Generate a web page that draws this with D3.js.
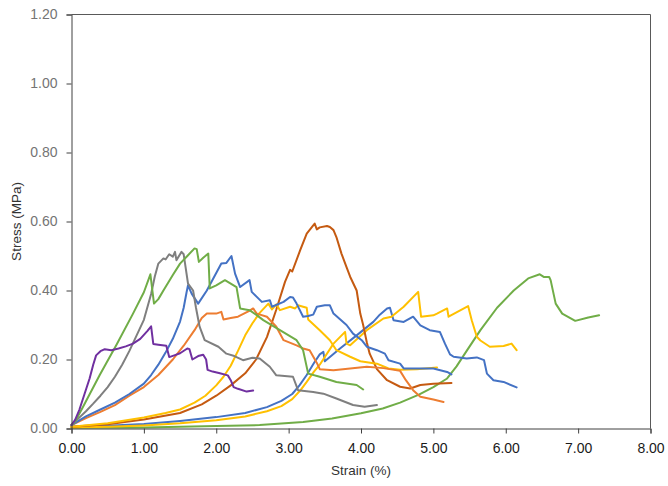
<!DOCTYPE html>
<html>
<head>
<meta charset="utf-8">
<script src="https://cdn.jsdelivr.net/npm/d3@7"></script>
<style>
  body { margin: 0; background: #fff; }
  svg { display: block; font-family: "Liberation Sans", Arial, sans-serif; }
</style>
</head>
<body>
<div id="chart"></div>
<script>
// Stress-strain curves, one array of [strain %, stress MPa] per specimen
var purple = [[0,0.01],[0.05,0.025],[0.11,0.055],[0.18,0.10],[0.25,0.145],[0.30,0.185],[0.34,0.212],[0.40,0.224],[0.46,0.23],[0.55,0.227],[0.65,0.232],[0.75,0.238],[0.85,0.246],[0.95,0.26],[1.05,0.283],[1.10,0.296],[1.13,0.245],[1.20,0.243],[1.31,0.240],[1.35,0.207],[1.42,0.212],[1.50,0.218],[1.60,0.232],[1.63,0.230],[1.67,0.200],[1.75,0.210],[1.82,0.214],[1.86,0.20],[1.88,0.17],[1.95,0.165],[2.05,0.160],[2.16,0.154],[2.20,0.14],[2.24,0.12],[2.30,0.115],[2.42,0.107],[2.51,0.110]];

var greenA = [[0,0.01],[0.05,0.02],[0.16,0.063],[0.39,0.155],[0.62,0.242],[0.85,0.333],[1.00,0.395],[1.09,0.447],[1.14,0.362],[1.20,0.375],[1.27,0.40],[1.40,0.445],[1.50,0.478],[1.60,0.50],[1.70,0.522],[1.73,0.520],[1.76,0.483],[1.82,0.495],[1.89,0.507],[1.91,0.406],[2.00,0.415],[2.12,0.43],[2.20,0.42],[2.28,0.41],[2.33,0.348],[2.46,0.343],[2.55,0.33],[2.65,0.314],[2.88,0.285],[3.11,0.256],[3.20,0.227],[3.27,0.159],[3.43,0.150],[3.66,0.135],[3.94,0.126],[4.03,0.113]];

var gray = [[0,0.01],[0.1,0.03],[0.2,0.05],[0.3,0.072],[0.4,0.095],[0.5,0.12],[0.6,0.15],[0.7,0.185],[0.8,0.225],[0.9,0.27],[1.0,0.315],[1.1,0.39],[1.15,0.44],[1.20,0.478],[1.27,0.493],[1.30,0.49],[1.35,0.505],[1.40,0.498],[1.43,0.512],[1.45,0.488],[1.52,0.512],[1.55,0.505],[1.61,0.42],[1.68,0.40],[1.72,0.35],[1.77,0.295],[1.84,0.256],[2.03,0.237],[2.14,0.217],[2.25,0.21],[2.37,0.198],[2.50,0.205],[2.60,0.203],[2.74,0.179],[2.83,0.154],[3.06,0.15],[3.13,0.111],[3.34,0.106],[3.48,0.101],[3.66,0.087],[3.89,0.068],[4.05,0.063],[4.22,0.068]];

var blueA = [[0,0.01],[0.2,0.035],[0.4,0.055],[0.6,0.075],[0.8,0.10],[1.0,0.13],[1.1,0.155],[1.2,0.185],[1.3,0.22],[1.4,0.26],[1.5,0.31],[1.55,0.35],[1.59,0.395],[1.61,0.415],[1.66,0.391],[1.75,0.362],[1.87,0.40],[2.07,0.478],[2.14,0.48],[2.21,0.50],[2.26,0.449],[2.33,0.41],[2.46,0.43],[2.49,0.396],[2.63,0.367],[2.74,0.372],[2.77,0.353],[2.93,0.367],[3.02,0.381],[3.06,0.38],[3.11,0.362],[3.20,0.324],[3.27,0.326],[3.34,0.33],[3.39,0.353],[3.50,0.357],[3.57,0.357],[3.62,0.333],[3.80,0.30],[3.89,0.275],[4.01,0.256],[4.08,0.237],[4.22,0.227],[4.33,0.217],[4.38,0.198],[4.54,0.188],[4.59,0.174],[4.77,0.174],[5.00,0.174],[5.19,0.164],[5.25,0.157]];

var orangeA = [[0,0.01],[0.2,0.03],[0.4,0.048],[0.6,0.068],[0.8,0.095],[1.0,0.12],[1.2,0.155],[1.4,0.20],[1.55,0.24],[1.7,0.285],[1.8,0.32],[1.87,0.333],[2.00,0.333],[2.07,0.338],[2.10,0.316],[2.20,0.32],[2.30,0.324],[2.45,0.34],[2.51,0.348],[2.56,0.333],[2.70,0.324],[2.83,0.295],[2.93,0.256],[3.11,0.241],[3.20,0.232],[3.29,0.227],[3.39,0.19],[3.43,0.172],[3.62,0.169],[3.85,0.174],[4.08,0.179],[4.31,0.175],[4.54,0.167],[4.62,0.14],[4.72,0.111],[4.82,0.092],[5.00,0.084],[5.14,0.077]];

var darkOrange = [[0,0.005],[0.5,0.012],[1.0,0.026],[1.5,0.045],[1.8,0.07],[2.0,0.095],[2.2,0.125],[2.4,0.16],[2.55,0.20],[2.7,0.265],[2.83,0.345],[2.95,0.425],[3.02,0.46],[3.05,0.455],[3.16,0.517],[3.25,0.565],[3.34,0.589],[3.36,0.594],[3.39,0.577],[3.43,0.583],[3.53,0.587],[3.57,0.584],[3.62,0.575],[3.66,0.555],[3.73,0.507],[3.80,0.468],[3.85,0.44],[3.94,0.40],[3.99,0.333],[4.03,0.30],[4.08,0.25],[4.12,0.217],[4.22,0.172],[4.36,0.14],[4.54,0.121],[4.68,0.116],[4.82,0.126],[5.00,0.13],[5.25,0.132]];

var yellowA = [[0,0.005],[0.5,0.015],[1.0,0.032],[1.3,0.045],[1.5,0.055],[1.7,0.075],[1.85,0.095],[2.0,0.125],[2.1,0.15],[2.2,0.182],[2.3,0.225],[2.4,0.27],[2.5,0.305],[2.6,0.335],[2.72,0.362],[2.77,0.345],[2.83,0.36],[2.88,0.343],[3.02,0.353],[3.09,0.348],[3.13,0.357],[3.20,0.353],[3.25,0.35],[3.27,0.316],[3.43,0.285],[3.57,0.256],[3.66,0.227],[3.85,0.208],[3.99,0.195],[4.22,0.188],[4.38,0.174],[4.54,0.170],[4.77,0.172],[5.05,0.177]];

var blueB = [[0,0.005],[0.5,0.008],[1.0,0.013],[1.5,0.022],[2.0,0.033],[2.4,0.045],[2.7,0.062],[2.9,0.08],[3.05,0.10],[3.15,0.125],[3.25,0.155],[3.35,0.19],[3.43,0.215],[3.48,0.222],[3.50,0.195],[3.71,0.232],[3.94,0.27],[4.17,0.309],[4.26,0.33],[4.36,0.348],[4.40,0.35],[4.45,0.314],[4.59,0.309],[4.72,0.324],[4.82,0.299],[4.95,0.285],[5.09,0.28],[5.16,0.246],[5.23,0.215],[5.28,0.208],[5.46,0.203],[5.60,0.206],[5.70,0.198],[5.74,0.159],[5.83,0.14],[5.97,0.135],[6.15,0.119]];

var yellowB = [[0,0.003],[0.5,0.005],[1.0,0.009],[1.5,0.015],[2.0,0.024],[2.4,0.035],[2.7,0.05],[2.9,0.065],[3.05,0.085],[3.16,0.11],[3.25,0.135],[3.35,0.165],[3.43,0.185],[3.62,0.246],[3.78,0.28],[3.80,0.246],[3.85,0.241],[4.08,0.285],[4.31,0.319],[4.42,0.324],[4.59,0.353],[4.79,0.396],[4.83,0.324],[5.00,0.328],[5.05,0.333],[5.19,0.348],[5.21,0.324],[5.48,0.355],[5.53,0.314],[5.60,0.266],[5.65,0.255],[5.78,0.237],[5.97,0.239],[6.08,0.246],[6.15,0.227]];

var greenB = [[0,0.002],[1.0,0.003],[2.0,0.007],[2.6,0.01],[3.2,0.019],[3.6,0.029],[4.0,0.044],[4.3,0.058],[4.54,0.075],[4.8,0.098],[5.0,0.12],[5.19,0.145],[5.32,0.18],[5.46,0.225],[5.65,0.285],[5.88,0.35],[6.11,0.40],[6.31,0.435],[6.47,0.447],[6.53,0.439],[6.60,0.439],[6.62,0.43],[6.69,0.362],[6.78,0.333],[6.96,0.312],[7.14,0.322],[7.29,0.328]];

var xTicks = [0, 1, 2, 3, 4, 5, 6, 7, 8];
var yTicks = [0, 0.2, 0.4, 0.6, 0.8, 1.0, 1.2];

var series = [
    {data: greenB, color: "#70AD47"},
    {data: blueB, color: "#4472C4"},
    {data: yellowB, color: "#FFC000"},
    {data: darkOrange, color: "#C55A11"},
    {data: yellowA, color: "#FFC000"},
    {data: orangeA, color: "#ED7D31"},
    {data: blueA, color: "#4472C4"},
    {data: gray, color: "#7F7F7F"},
    {data: greenA, color: "#70AD47"},
    {data: purple, color: "#7030A0"}
];

var width = 668, height = 486;
var plotLeft = 71.5, plotRight = 650.5, plotTop = 14.5, plotBottom = 428.5;

var svg = d3.select("#chart")
    .append("svg")
    .attr("width", width)
    .attr("height", height);

var x = d3.scaleLinear().domain([0, 8]).range([plotLeft, plotRight]);
var y = d3.scaleLinear().domain([0, 1.2]).range([plotBottom, plotTop]);

// frame (top and right sides)
svg.append("path")
    .attr("d", "M" + plotLeft + "," + plotTop + "H" + plotRight + "V" + plotBottom)
    .attr("fill", "none")
    .attr("stroke", "#595959")
    .attr("stroke-width", 1);

var line = d3.line()
    .x(function(d) { return x(d[0]); })
    .y(function(d) { return y(d[1]); });

svg.append("g")
    .selectAll("path")
    .data(series)
    .enter()
    .append("path")
    .attr("d", function(d) { return line(d.data); })
    .attr("fill", "none")
    .attr("stroke", function(d) { return d.color; })
    .attr("stroke-width", 2)
    .attr("stroke-linejoin", "round")
    .attr("stroke-linecap", "round");

// y axis
var yAxis = svg.append("g")
    .attr("transform", "translate(" + plotLeft + ",0)")
    .call(d3.axisLeft(y).tickValues(yTicks).tickSize(5).tickPadding(9).tickFormat(d3.format(".2f")));
yAxis.select(".domain").attr("stroke", "#404040");
yAxis.selectAll(".tick line").attr("stroke", "#404040");
yAxis.selectAll("text")
    .style("font-size", "14px")
    .attr("fill", "#747474");

// x axis
var xAxis = svg.append("g")
    .attr("transform", "translate(0," + plotBottom + ")")
    .call(d3.axisBottom(x).tickValues(xTicks).tickSize(5).tickPadding(10).tickFormat(d3.format(".2f")));
xAxis.select(".domain").attr("stroke", "#404040");
xAxis.selectAll(".tick line").attr("stroke", "#404040");
xAxis.selectAll("text")
    .style("font-size", "14px")
    .attr("fill", "#1a1a1a");

// axis titles
svg.append("text")
    .attr("x", (plotLeft + plotRight) / 2)
    .attr("y", 475)
    .attr("text-anchor", "middle")
    .style("font-size", "13.5px")
    .attr("fill", "#333")
    .text("Strain (%)");

svg.append("text")
    .attr("transform", "translate(21," + ((plotTop + plotBottom) / 2) + ") rotate(-90)")
    .attr("text-anchor", "middle")
    .style("font-size", "13.5px")
    .attr("fill", "#333")
    .text("Stress (MPa)");
</script>
</body>
</html>
